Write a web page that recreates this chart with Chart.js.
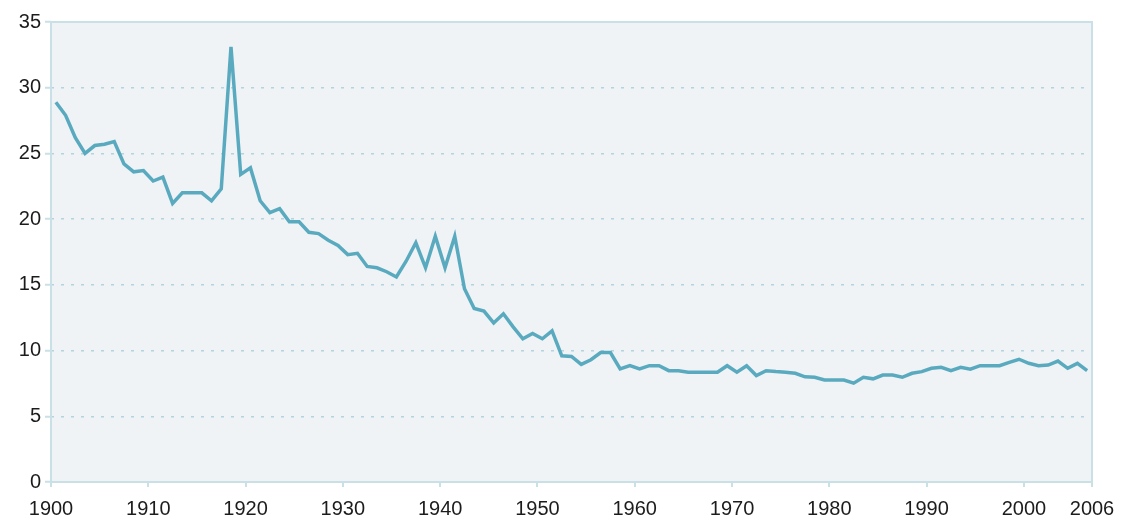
<!DOCTYPE html>
<html>
<head>
<meta charset="utf-8">
<script src="https://cdn.jsdelivr.net/npm/chart.js@4.4.1/dist/chart.umd.min.js"></script>
<style>
  html, body { margin: 0; padding: 0; background: #ffffff; }
  #wrap { width: 1128px; height: 529px; position: relative; }
</style>
</head>
<body>
<div id="wrap"><canvas id="rateChart"></canvas></div>
<script>
// --- Data ---
const firstYear = 1900;
const values = [
    28.9, 27.9, 26.2, 25.0, 25.6, 25.7, 25.9, 24.2, 23.6, 23.7,   // 1900s
    22.9, 23.2, 21.2, 22.0, 22.0, 22.0, 21.4, 22.3, 33.1, 23.4,   // 1910s
    23.9, 21.4, 20.5, 20.8, 19.8, 19.8, 19.0, 18.9, 18.4, 18.0,   // 1920s
    17.3, 17.4, 16.4, 16.3, 16.0, 15.6, 16.8, 18.2, 16.3, 18.7,   // 1930s
    16.3, 18.7, 14.7, 13.2, 13.0, 12.1, 12.8, 11.8, 10.9, 11.3,   // 1940s
    10.9, 11.5, 9.6, 9.55, 8.95, 9.3, 9.85, 9.85, 8.6, 8.85,     // 1950s
    8.6, 8.85, 8.85, 8.47, 8.47, 8.35, 8.35, 8.35, 8.35, 8.85,   // 1960s
    8.35, 8.85, 8.1, 8.47, 8.4, 8.35, 8.27, 8.0, 7.97, 7.76,     // 1970s
    7.76, 7.76, 7.52, 7.97, 7.85, 8.14, 8.14, 7.97, 8.27, 8.4,   // 1980s
    8.65, 8.73, 8.47, 8.73, 8.58, 8.85, 8.85, 8.85, 9.1, 9.34,   // 1990s
    9.03, 8.85, 8.9, 9.2, 8.65, 9.03, 8.47                       // 2000s
];
const tickYears = [1900, 1910, 1920, 1930, 1940, 1950, 1960, 1970, 1980, 1990, 2000];
const lastLabel = '2006';
const yTicks = [0, 5, 10, 15, 20, 25, 30, 35];

// --- Colors ---
const lineColor = '#5aaabf';
const plotBg = '#eff3f6';
const frameColor = '#c9e0e7';
const gridColor = '#b3d4de';
const textColor = '#1c1c1c';

// each year is drawn in the middle of its slot
const points = values.map((v, i) => ({ x: firstYear + i + 0.5, y: v }));
const xMax = firstYear + values.length;

// plot background + frame
const framePlugin = {
    id: 'frame',
    beforeDraw(chart) {
        const { ctx, chartArea: a } = chart;
        ctx.save();
        ctx.fillStyle = plotBg;
        ctx.fillRect(a.left, a.top, a.right - a.left, a.bottom - a.top);
        ctx.restore();
    },
    afterDatasetsDraw(chart) {
        const { ctx, chartArea: a } = chart;
        ctx.save();
        ctx.strokeStyle = frameColor;
        ctx.lineWidth = 2;
        ctx.strokeRect(a.left, a.top, a.right - a.left, a.bottom - a.top);
        ctx.restore();
    }
};

const tickFont = { family: 'Liberation Sans, Arial, sans-serif', size: 20 };

const ctx = document.getElementById('rateChart').getContext('2d');
new Chart(ctx, {
    type: 'line',
    data: {
        datasets: [{
            data: points,
            borderColor: lineColor,
            borderWidth: 3.5,
            pointRadius: 0,
            tension: 0,
            fill: false
        }]
    },
    options: {
        responsive: true,
        maintainAspectRatio: false,
        animation: false,
        layout: { padding: { top: 22, right: 36, left: 0, bottom: 0 } },
        plugins: {
            legend: { display: false },
            tooltip: { enabled: false }
        },
        scales: {
            x: {
                type: 'linear',
                min: firstYear,
                max: xMax,
                afterBuildTicks(axis) {
                    axis.ticks = tickYears.concat([xMax]).map(v => ({ value: v }));
                },
                afterFit(axis) { axis.height = 47; },
                ticks: {
                    autoSkip: false,
                    maxRotation: 0,
                    padding: 10,
                    color: textColor,
                    font: tickFont,
                    callback: v => (v === xMax ? lastLabel : String(v))
                },
                grid: {
                    drawOnChartArea: false,
                    drawTicks: true,
                    tickLength: 5,
                    tickColor: frameColor,
                    lineWidth: 2
                },
                border: { display: false }
            },
            y: {
                min: 0,
                max: 35,
                afterBuildTicks(axis) {
                    axis.ticks = yTicks.map(v => ({ value: v }));
                },
                afterFit(axis) { axis.width = 51; },
                ticks: {
                    padding: 4,
                    color: textColor,
                    font: tickFont
                },
                grid: {
                    color: gridColor,
                    lineWidth: 1.5,
                    drawTicks: true,
                    tickLength: 6,
                    tickColor: frameColor,
                    tickWidth: 2
                },
                border: { display: false, dash: [3, 7] }
            }
        }
    },
    plugins: [framePlugin]
});
</script>
</body>
</html>
